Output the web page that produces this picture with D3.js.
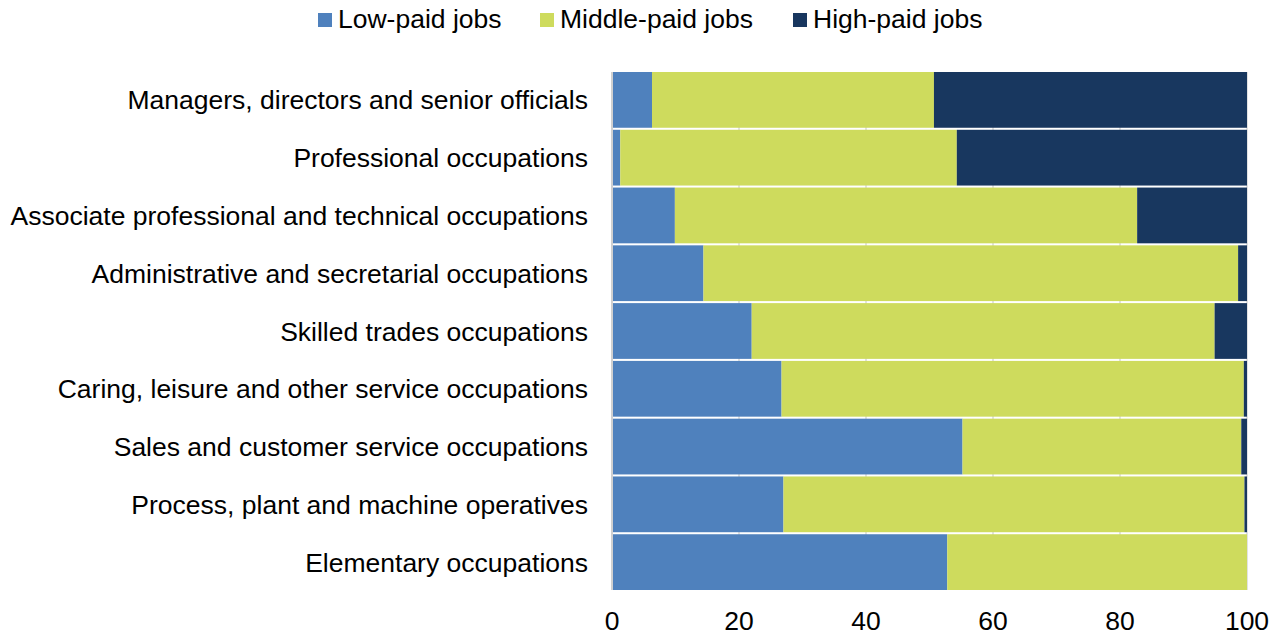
<!DOCTYPE html>
<html>
<head>
<meta charset="utf-8">
<script src="https://cdn.jsdelivr.net/npm/d3@7"></script>
<style>
  body { margin: 0; background: #fff; }
  svg { display: block; font-family: "Liberation Sans", Arial, sans-serif; }
</style>
</head>
<body>
<svg id="chart" width="1280" height="637"></svg>
<script>
// occupation groups, top to bottom
const categories = [
    "Managers, directors and senior officials",
    "Professional occupations",
    "Associate professional and technical occupations",
    "Administrative and secretarial occupations",
    "Skilled trades occupations",
    "Caring, leisure and other service occupations",
    "Sales and customer service occupations",
    "Process, plant and machine operatives",
    "Elementary occupations"
];
const seriesNames = ["Low-paid jobs", "Middle-paid jobs", "High-paid jobs"];
const lowPaid    = [6.3, 1.3, 9.9, 14.4, 22.0, 26.7, 55.2, 27.0, 52.8];
const middlePaid = [44.4, 53.0, 72.8, 84.2, 72.9, 72.8, 43.9, 72.6, 47.2];
const highPaid   = [49.3, 45.7, 17.3, 1.4, 5.1, 0.5, 0.9, 0.4, 0.0];
const xTicks = [0, 20, 40, 60, 80, 100];

const colors = ["#4f81bd", "#cedb5d", "#18375f"];
const fontSize = 26.5;

const svg = d3.select("#chart");
const margin = {left: 612, right: 33, top: 72, bottom: 47};
const width = 1280, height = 637;

const x = d3.scaleLinear().domain([0, 100]).range([margin.left, width - margin.right]);
const y = d3.scaleBand().domain(categories).range([margin.top, height - margin.bottom]).paddingInner(0.035).paddingOuter(0.0);

const rows = categories.map((c, i) => ({cat: c, "Low-paid jobs": lowPaid[i], "Middle-paid jobs": middlePaid[i], "High-paid jobs": highPaid[i]}));
const stacked = d3.stack().keys(seriesNames)(rows);

// gridlines
svg.append("g")
    .selectAll("line")
    .data(xTicks.slice(1))
    .join("line")
    .attr("x1", d => x(d)).attr("x2", d => x(d))
    .attr("y1", margin.top).attr("y2", height - margin.bottom)
    .attr("stroke", "#d9d9d9")
    .attr("stroke-width", 1.5);

// bars
svg.append("g")
    .selectAll("g")
    .data(stacked)
    .join("g")
    .attr("fill", (d, i) => colors[i])
    .selectAll("rect")
    .data(d => d)
    .join("rect")
    .attr("x", d => x(d[0]))
    .attr("y", d => y(d.data.cat))
    .attr("width", d => Math.max(0, x(d[1]) - x(d[0])))
    .attr("height", y.bandwidth());

// axis line at 0
svg.append("line")
    .attr("x1", x(0)).attr("x2", x(0))
    .attr("y1", margin.top).attr("y2", height - margin.bottom)
    .attr("stroke", "#d0d0d0")
    .attr("stroke-width", 2);

// category labels
svg.append("g")
    .selectAll("text")
    .data(categories)
    .join("text")
    .attr("x", x(0) - 24)
    .attr("y", d => y(d) + y.bandwidth() / 2)
    .attr("dy", "0.36em")
    .attr("text-anchor", "end")
    .attr("font-size", fontSize)
    .attr("fill", "#000")
    .text(d => d);

// x tick labels
svg.append("g")
    .selectAll("text")
    .data(xTicks)
    .join("text")
    .attr("x", d => x(d))
    .attr("y", 630)
    .attr("text-anchor", "middle")
    .attr("font-size", fontSize)
    .attr("fill", "#000")
    .text(d => d);

// legend
const legendX = [318, 540, 793];
const legend = svg.append("g")
    .selectAll("g")
    .data(seriesNames)
    .join("g")
    .attr("transform", (d, i) => `translate(${legendX[i]},20)`);
legend.append("rect")
    .attr("x", 0).attr("y", -7)
    .attr("width", 14).attr("height", 14)
    .attr("fill", (d, i) => colors[i]);
legend.append("text")
    .attr("x", 20)
    .attr("y", 7.5)
    .attr("font-size", fontSize)
    .attr("fill", "#000")
    .text(d => d);
</script>
</body>
</html>
